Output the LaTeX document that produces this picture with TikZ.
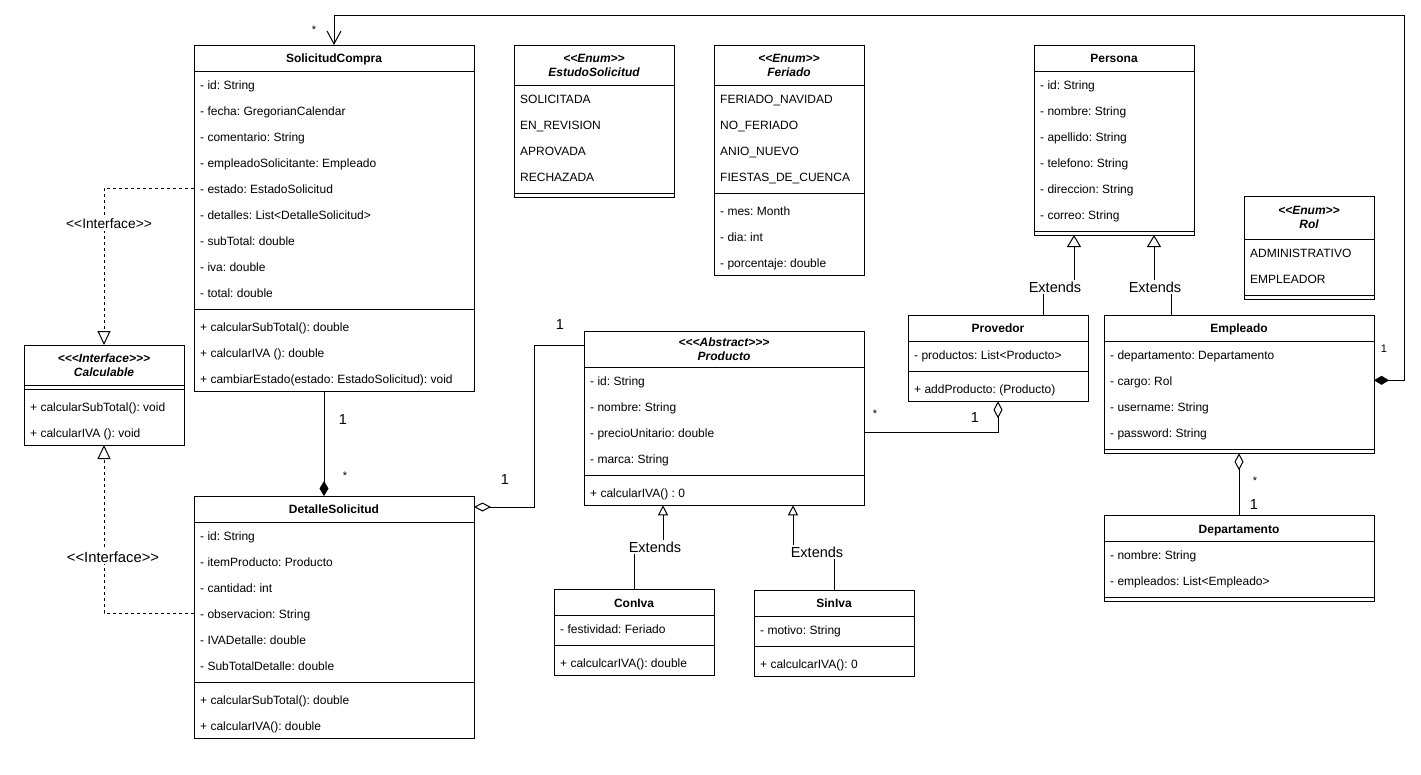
\documentclass[tikz,border=0pt]{standalone}
\usepackage{fontspec}
\setmainfont{Liberation Sans}[Ligatures=TeXOff]
\usepackage{tikz}
\usetikzlibrary{arrows.meta, calc, positioning}
\frenchspacing

\begin{document}
\begin{tikzpicture}[
    x=1pt, y=-1pt,
    cls/.style={draw, line width=1pt, anchor=north west, inner sep=0pt, outer sep=0pt},
    hdr/.style={anchor=base, inner sep=0pt, font=\fontsize{12}{14}\selectfont\bfseries},
    stereo/.style={align=center, inner sep=0pt, font=\fontsize{12}{14}\selectfont\bfseries\itshape},
    item/.style={anchor=base west, inner sep=0pt, text height=10pt, text depth=0pt, font=\fontsize{12}{14}\selectfont},
    sep/.style={line width=1pt},
    lbl/.style={fill=white, inner sep=1.5pt, font=\fontsize{14.5}{16}\selectfont},
    one/.style={inner sep=0pt, font=\fontsize{14.5}{16}\selectfont},
    many/.style={inner sep=0pt, font=\fontsize{11}{13}\selectfont},
    ext/.style={line width=1pt, -{Triangle[open, length=12pt, width=14pt]}},
    exts/.style={line width=1pt, -{Triangle[open, length=10pt, width=10pt]}},
    impl/.style={line width=1pt, dash pattern=on 3pt off 3pt, -{Triangle[open, length=14pt, width=13pt]}},
    comp/.style={line width=1pt, -{Diamond[length=15pt, width=9pt]}},
    agg/.style={line width=1pt, -{Diamond[open, length=17pt, width=9pt]}}
]
    \path[fill=white, use as bounding box] (0,0) rectangle (1421,774);

    % SolicitudCompra
    \node[cls, minimum width=280, minimum height=346] (sc) at (194,45) {};
    \node[hdr] (sc-h) at (334,62.3) {SolicitudCompra};
    \foreach \t [count=\i] in {- id: String, - fecha: GregorianCalendar, - comentario: String,
        - empleadoSolicitante: Empleado, - estado: EstadoSolicitud, - detalles: List<DetalleSolicitud>,
        - subTotal: double, - iva: double, - total: double}
        \node[item] (sc-\i) at (200,63+26*\i) {\t};
    \foreach \t [count=\i] in {+ calcularSubTotal(): double, + calcularIVA (): double,
        + cambiarEstado(estado: EstadoSolicitud): void}
        \node[item] (sc-m\i) at (200,305+26*\i) {\t};
    \draw[sep] (194,71) -- (474,71) (194,309) -- (474,309);

    % Calculable
    \node[cls, minimum width=160, minimum height=100] (ca) at (24,345) {};
    \node[stereo] (ca-h) at (104,365) {<<<Interface>>>\\Calculable};
    \draw[sep] (24,385) -- (184,385) (24,389) -- (184,389);
    \foreach \t [count=\i] in {+ calcularSubTotal(): void, + calcularIVA (): void}
        \node[item] (ca-m\i) at (30,385+26*\i) {\t};

    % DetalleSolicitud
    \node[cls, minimum width=280, minimum height=242] (ds) at (194,496) {};
    \node[hdr] (ds-h) at (334,513.3) {DetalleSolicitud};
    \foreach \t [count=\i] in {- id: String, - itemProducto: Producto, - cantidad: int,
        - observacion: String, - IVADetalle: double, - SubTotalDetalle: double}
        \node[item] (ds-\i) at (200,514+26*\i) {\t};
    \foreach \t [count=\i] in {+ calcularSubTotal(): double, + calcularIVA(): double}
        \node[item] (ds-m\i) at (200,678+26*\i) {\t};
    \draw[sep] (194,522) -- (474,522) (194,682) -- (474,682);

    % EstudoSolicitud
    \node[cls, minimum width=160, minimum height=152] (es) at (514,45) {};
    \node[stereo] (es-h) at (594,65) {<<Enum>>\\EstudoSolicitud};
    \foreach \t [count=\i] in {SOLICITADA, EN\_REVISION, APROVADA, RECHAZADA}
        \node[item] (es-\i) at (520,77+26*\i) {\t};
    \draw[sep] (514,85) -- (674,85) (514,193) -- (674,193);

    % Feriado
    \node[cls, minimum width=150, minimum height=230] (fe) at (714,45) {};
    \node[stereo] (fe-h) at (789,65) {<<Enum>>\\Feriado};
    \foreach \t [count=\i] in {FERIADO\_NAVIDAD, NO\_FERIADO, ANIO\_NUEVO, FIESTAS\_DE\_CUENCA}
        \node[item] (fe-\i) at (720,77+26*\i) {\t};
    \foreach \t [count=\i] in {- mes: Month, - dia: int, - porcentaje: double}
        \node[item] (fe-a\i) at (720,189+26*\i) {\t};
    \draw[sep] (714,85) -- (864,85) (714,193) -- (864,193);

    % Persona
    \node[cls, minimum width=160, minimum height=190] (pe) at (1034,45) {};
    \node[hdr] (pe-h) at (1114,62.3) {Persona};
    \foreach \t [count=\i] in {- id: String, - nombre: String, - apellido: String,
        - telefono: String, - direccion: String, - correo: String}
        \node[item] (pe-\i) at (1040,63+26*\i) {\t};
    \draw[sep] (1034,71) -- (1194,71) (1034,231) -- (1194,231);

    % Rol
    \node[cls, minimum width=130, minimum height=103] (ro) at (1244,196) {};
    \node[stereo] (ro-h) at (1309,217.5) {<<Enum>>\\Rol};
    \foreach \t [count=\i] in {ADMINISTRATIVO, EMPLEADOR}
        \node[item] (ro-\i) at (1250,231+26*\i) {\t};
    \draw[sep] (1244,239) -- (1374,239) (1244,295) -- (1374,295);

    % Producto
    \node[cls, minimum width=280, minimum height=173.6] (pr) at (584,331.7) {};
    \node[stereo] (pr-h) at (724,349.5) {<<<Abstract>>>\\Producto};
    \foreach \t [count=\i] in {- id: String, - nombre: String, - precioUnitario: double, - marca: String}
        \node[item] (pr-\i) at (590,359.3+26*\i) {\t};
    \node[item] (pr-m1) at (590,497.3) {+ calcularIVA() : 0};
    \draw[sep] (584,367.3) -- (864,367.3) (584,475.3) -- (864,475.3);

    % ConIva / SinIva
    \node[cls, minimum width=160, minimum height=86] (ci) at (554,589.7) {};
    \node[hdr] (ci-h) at (634,607) {ConIva};
    \node[item] (ci-1) at (560,633.7) {- festividad: Feriado};
    \node[item] (ci-m1) at (560,667.7) {+ calculcarIVA(): double};
    \draw[sep] (554,615.7) -- (714,615.7) (554,645.7) -- (714,645.7);

    \node[cls, minimum width=160, minimum height=86] (si) at (754,590.3) {};
    \node[hdr] (si-h) at (834,607.6) {SinIva};
    \node[item] (si-1) at (760,634.3) {- motivo: String};
    \node[item] (si-m1) at (760,668.3) {+ calculcarIVA(): 0};
    \draw[sep] (754,616.3) -- (914,616.3) (754,646.3) -- (914,646.3);

    % Provedor
    \node[cls, minimum width=180, minimum height=86] (pv) at (908,315.3) {};
    \node[hdr] (pv-h) at (998,332.6) {Provedor};
    \node[item] (pv-1) at (914,359.3) {- productos: List<Producto>};
    \node[item] (pv-m1) at (914,393.3) {+ addProducto: (Producto)};
    \draw[sep] (908,341.3) -- (1088,341.3) (908,371.3) -- (1088,371.3);

    % Empleado
    \node[cls, minimum width=270, minimum height=138] (em) at (1104,315.3) {};
    \node[hdr] (em-h) at (1239,332.6) {Empleado};
    \foreach \t [count=\i] in {- departamento: Departamento, - cargo: Rol, - username: String, - password: String}
        \node[item] (em-\i) at (1110,333.3+26*\i) {\t};
    \draw[sep] (1104,341.3) -- (1374,341.3) (1104,449.3) -- (1374,449.3);

    % Departamento
    \node[cls, minimum width=270, minimum height=86] (dp) at (1104,515.7) {};
    \node[hdr] (dp-h) at (1239,533) {Departamento};
    \foreach \t [count=\i] in {- nombre: String, - empleados: List<Empleado>}
        \node[item] (dp-\i) at (1110,533.7+26*\i) {\t};
    \draw[sep] (1104,541.7) -- (1374,541.7) (1104,597.7) -- (1374,597.7);

    % relaciones
    \draw[impl] (sc.west |- sc-5) -| (ca.north);
    \draw[impl] (ds.west |- ds-4) -| (ca.south);
    \draw[comp] ($(sc.south)+(-10,0)$) -- ($(ds.north)+(-10,0)$);
    \draw[agg] ($(pr.north west)+(0,13.6)$) -- ++(-50,0) |- ($(ds.north east)+(0,11)$);
    \draw[agg] (pr.east |- pr-3) -| (pv.south);
    \draw[agg] (dp.north) -- (em.south);
    \draw[line width=1pt, {Diamond[length=15pt, width=9pt]}-{Straight Barb[length=13pt, width=14pt]}]
        (em.east |- em-2) -- ++(30,0) |- ($(sc.north)+(0,-30)$) -- (sc.north);
    \draw[exts] (ci.north) -- ++(0,-43) -| ($(pr.south)+(-61,0)$);
    \draw[exts] (si.north) -- ++(0,-38) -| ($(pr.south)+(69,0)$);
    \draw[ext] ($(pv.north)+(45,0)$) -- ++(0,-28) -| ($(pe.south)+(-40,0)$);
    \draw[ext] ($(em.north)+(-67.5,0)$) -- ++(0,-28) -| ($(pe.south)+(40,0)$);

    % etiquetas
    \node[lbl, font=\fontsize{13.75}{16}\selectfont] (i-sc) at (109,224) {<<Interface>>};
    \node[lbl, font=\fontsize{14.8}{16}\selectfont] (i-ds) at (113,557) {<<Interface>>};
    \node[lbl] (x-ci) at (655,547) {Extends};
    \node[lbl] (x-si) at (817,552) {Extends};
    \node[lbl] (x-pv) at (1055,287) {Extends};
    \node[lbl] (x-em) at (1155,287) {Extends};

    \node[one] (n-sc) at (343,420) {1};
    \node[many] (n-ds) at (345,476) {*};
    \node[one] (n-dsp) at (505,480) {1};
    \node[one] (n-prd) at (560,325) {1};
    \node[many] (n-prp) at (875,413.5) {*};
    \node[one] (n-pv) at (975,417.5) {1};
    \node[many] (n-em) at (1384,349) {1};
    \node[many] (n-sce) at (314,30) {*};
    \node[many] (n-emd) at (1255,481) {*};
    \node[one] (n-dp) at (1254,505) {1};
\end{tikzpicture}
\end{document}
